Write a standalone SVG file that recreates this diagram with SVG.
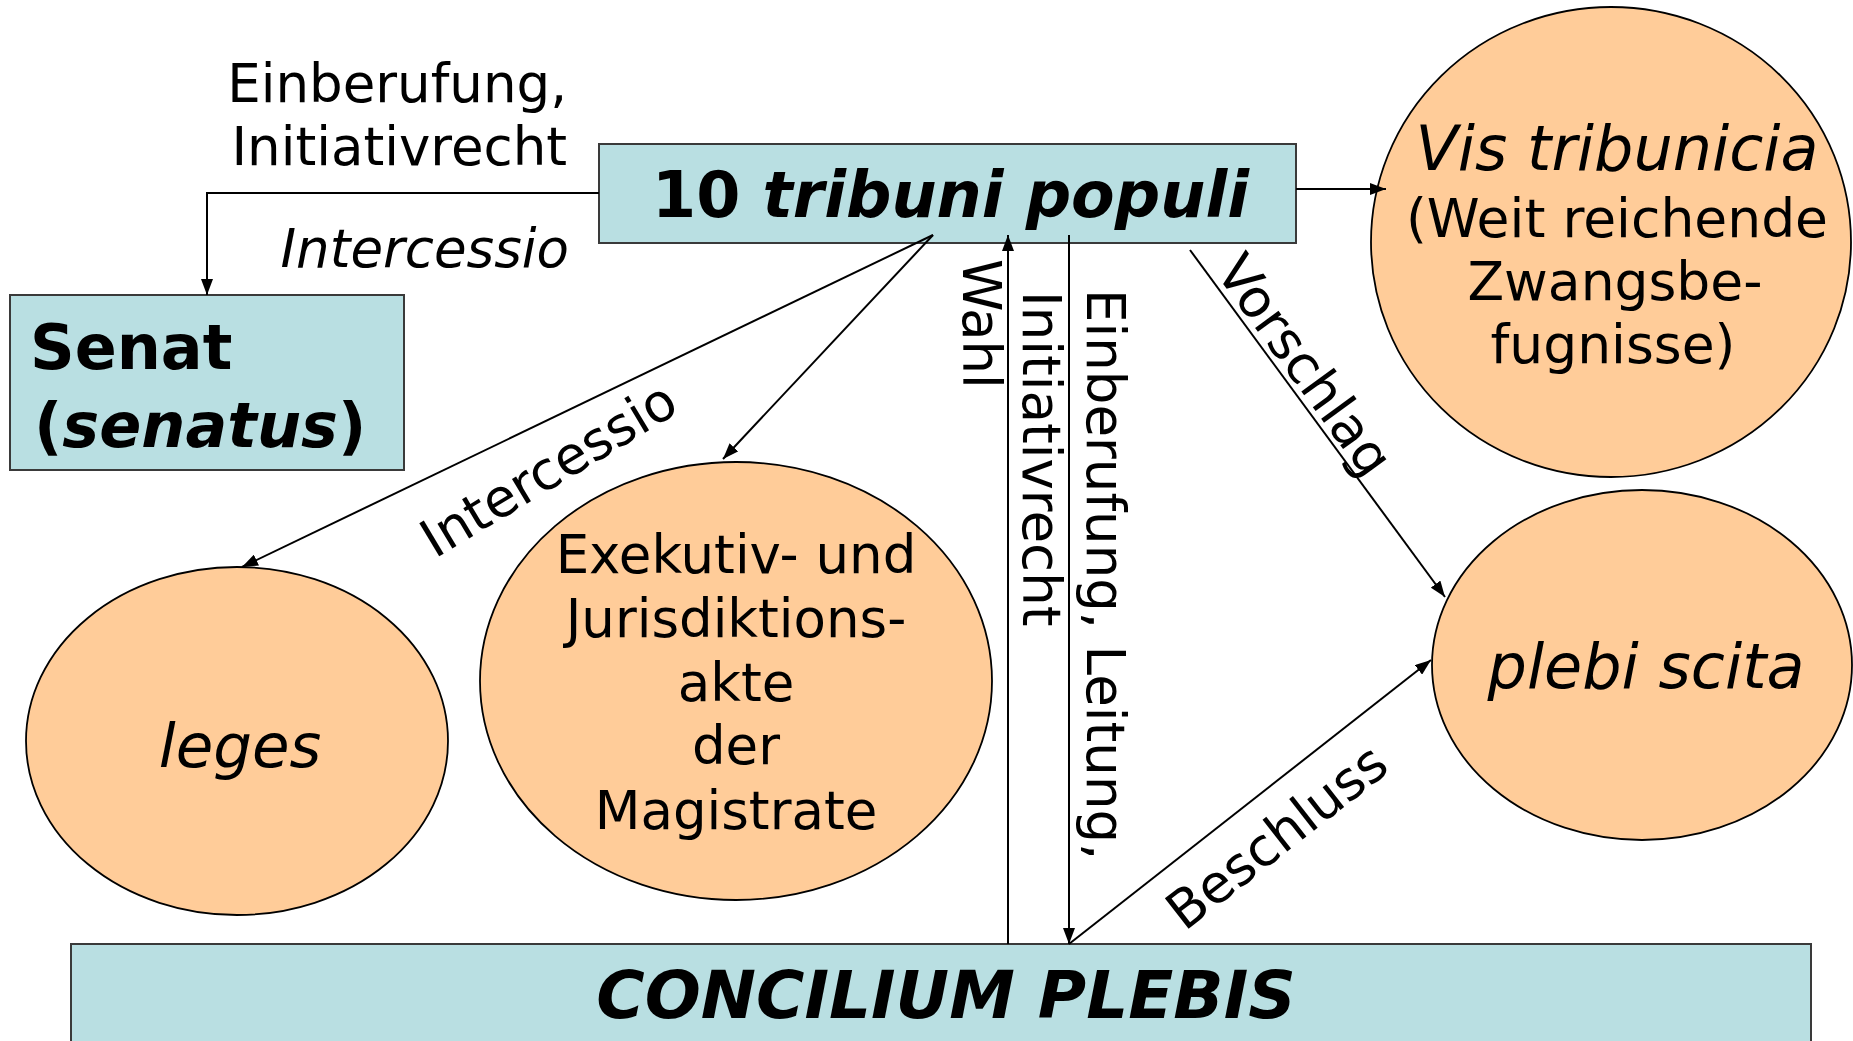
<svg xmlns="http://www.w3.org/2000/svg" width="1853" height="1041" viewBox="0 0 1853 1041">
<defs>
<marker id="arr" viewBox="0 0 16 12" refX="16" refY="6" markerWidth="16" markerHeight="12" markerUnits="userSpaceOnUse" orient="auto">
<path d="M0,0 L16,6 L0,12 Z" fill="#000"/>
</marker>
<style>
.box{fill:#B9DFE2;stroke:#3a3a3a;stroke-width:2}
.ell{fill:#FFCC99;stroke:#000;stroke-width:1.8}
.con{fill:none;stroke:#000;stroke-width:2}
.t{font-family:"DejaVu Sans",Verdana,sans-serif;font-size:53px;fill:#000}
.b{font-weight:bold}
.i{font-style:italic}
.m{text-anchor:middle}
.e{text-anchor:end}
</style>
</defs>
<rect width="1853" height="1041" fill="#fff"/>

<g id="tribuni">
<rect class="box" x="599" y="144" width="697" height="99"/>
<text class="t b" x="652" y="217" style="font-size:63.5px">10 <tspan class="i">tribuni populi</tspan></text>
</g>

<g id="senat">
<rect class="box" x="10" y="295" width="394" height="175"/>
<text class="t b" x="30" y="369" style="font-size:62px">Senat</text>
<text class="t b" x="34" y="447" style="font-size:62px">(<tspan class="i">senatus</tspan>)</text>
</g>

<g id="concilium">
<rect class="box" x="71" y="944" width="1740" height="130"/>
<text class="t b i m" x="946" y="1018" style="font-size:66px">CONCILIUM PLEBIS</text>
</g>

<g id="vis">
<ellipse class="ell" cx="1611" cy="242" rx="240" ry="235"/>
<text class="t i m" x="1617" y="170" style="font-size:62px">Vis tribunicia</text>
<text class="t m" x="1617" y="237" style="font-size:53.5px">(Weit reichende</text>
<text class="t m" x="1615" y="300" style="font-size:53.5px">Zwangsbe-</text>
<text class="t m" x="1613" y="363" style="font-size:53.5px">fugnisse)</text>
</g>

<g id="leges">
<ellipse class="ell" cx="237" cy="741" rx="211" ry="174"/>
<text class="t i m" x="240" y="767" style="font-size:61px">leges</text>
</g>

<g id="exekutiv">
<ellipse class="ell" cx="736" cy="681" rx="256" ry="219"/>
<text class="t m" x="736" y="573">Exekutiv- und</text>
<text class="t m" x="736" y="637">Jurisdiktions-</text>
<text class="t m" x="736" y="701">akte</text>
<text class="t m" x="736" y="764">der</text>
<text class="t m" x="736" y="829">Magistrate</text>
</g>

<g id="plebiscita">
<ellipse class="ell" cx="1642" cy="665" rx="210" ry="175"/>
<text class="t i m" x="1646" y="688" style="font-size:62px">plebi scita</text>
</g>

<g id="connectors">
<path class="con" d="M599,193 H207 V295" marker-end="url(#arr)"/>
<path class="con" d="M1296,189 H1386" marker-end="url(#arr)"/>
<path class="con" d="M933,235 L242,567" marker-end="url(#arr)"/>
<path class="con" d="M933,235 L723,459" marker-end="url(#arr)"/>
<path class="con" d="M1008,944 V235" marker-end="url(#arr)"/>
<path class="con" d="M1069,235 V944" marker-end="url(#arr)"/>
<path class="con" d="M1069,944 L1431,660" marker-end="url(#arr)"/>
<path class="con" d="M1190,250 L1445,597" marker-end="url(#arr)"/>
</g>

<g id="labels">
<text class="t e" x="567" y="102">Einberufung,</text>
<text class="t e" x="567" y="165">Initiativrecht</text>
<text class="t i e" x="569" y="267">Intercessio</text>
<text class="t m" transform="translate(558,485) rotate(-31)">Intercessio</text>
<text class="t" transform="translate(963,259) rotate(90)">Wahl</text>
<text class="t" transform="translate(1023,291) rotate(90)">Initiativrecht</text>
<text class="t" transform="translate(1087,289) rotate(90)">Einberufung, Leitung,</text>
<text class="t m" transform="translate(1290,376) rotate(54)">Vorschlag</text>
<text class="t m" transform="translate(1288,851) rotate(-38)">Beschluss</text>
</g>
</svg>
